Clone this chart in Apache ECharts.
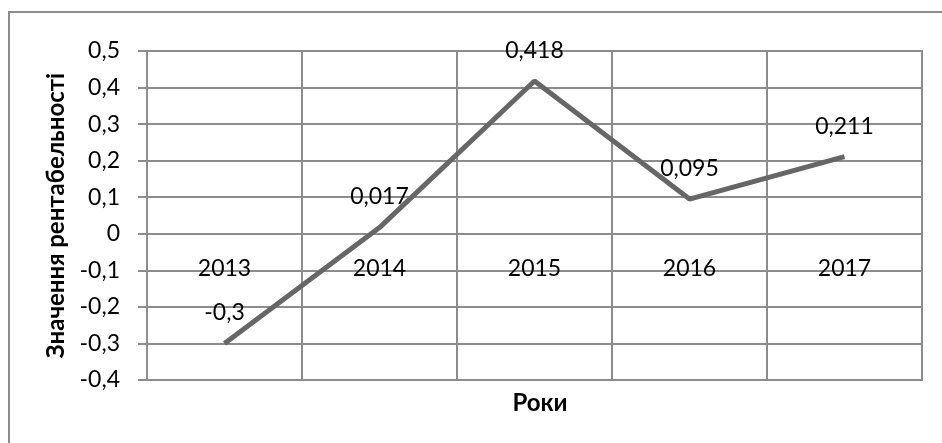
<!DOCTYPE html>
<html>
<head>
<meta charset="utf-8">
<script src="https://cdn.jsdelivr.net/npm/echarts@6/dist/echarts.min.js"></script>
<style>
  html, body { margin: 0; padding: 0; background: #fff; }
  #chart { width: 942px; height: 443px; }
</style>
</head>
<body>
<div id="chart"></div>
<script>
// Рентабельність за роками
const years = ['2013', '2014', '2015', '2016', '2017'];
const profitability = [-0.3, 0.017, 0.418, 0.095, 0.211];
const yMin = -0.4, yMax = 0.5, yStep = 0.1;

const FONT = 'Lato, "Open Sans", sans-serif';
const GRID = '#8c8c8c';

const comma = v => String(v).replace('.', ',');
const tickText = v => comma(Number(v.toFixed(1)));

const chart = echarts.init(document.getElementById('chart'), null, { renderer: 'canvas' });

chart.setOption({
  animation: false,
  backgroundColor: '#fff',
  textStyle: { fontFamily: FONT },
  graphic: [{
    type: 'rect',
    shape: { x: 9, y: 12, width: 1000, height: 1000 },
    style: { fill: 'none', stroke: GRID, lineWidth: 2 },
    silent: true
  }],
  title: [{
    text: 'Роки',
    left: 535, top: 386,
    textAlign: 'center',
    textStyle: { fontFamily: FONT, fontWeight: 'bold', fontSize: 24, color: '#000' }
  }],
  grid: {
    left: 147, right: 20, top: 51, bottom: 63,
    show: true, borderColor: GRID, borderWidth: 2, backgroundColor: 'transparent'
  },
  xAxis: {
    type: 'category',
    data: years,
    boundaryGap: true,
    axisLine: { onZero: true, lineStyle: { color: GRID, width: 2 } },
    axisTick: { show: false },
    // year labels sit just under the zero line, inside the plot
    axisLabel: { margin: -111, verticalAlign: 'middle', fontFamily: FONT, fontSize: 23, color: '#000' },
    splitLine: { show: true, lineStyle: { color: GRID, width: 2 } }
  },
  yAxis: {
    type: 'value',
    min: yMin, max: yMax, interval: yStep,
    name: 'Значення рентабельності',
    nameLocation: 'middle',
    nameRotate: 90,
    nameGap: 79,
    nameTextStyle: { fontFamily: FONT, fontWeight: 'bold', fontSize: 24, color: '#000' },
    axisLine: { show: true, lineStyle: { color: GRID, width: 2 } },
    axisTick: { show: true, length: 9, lineStyle: { color: GRID, width: 2 } },
    axisLabel: { margin: 27, fontFamily: FONT, fontSize: 23, color: '#000', formatter: tickText },
    splitLine: { show: true, lineStyle: { color: GRID, width: 2 } }
  },
  series: [{
    type: 'line',
    data: profitability,
    symbol: 'circle',
    symbolSize: 0,
    showSymbol: true,
    lineStyle: { color: '#666', width: 5 },
    itemStyle: { color: '#666' },
    label: {
      show: true,
      position: 'top',
      distance: 19,
      fontFamily: FONT, fontSize: 23, color: '#000',
      formatter: p => comma(p.value)
    }
  }]
});
</script>
</body>
</html>
